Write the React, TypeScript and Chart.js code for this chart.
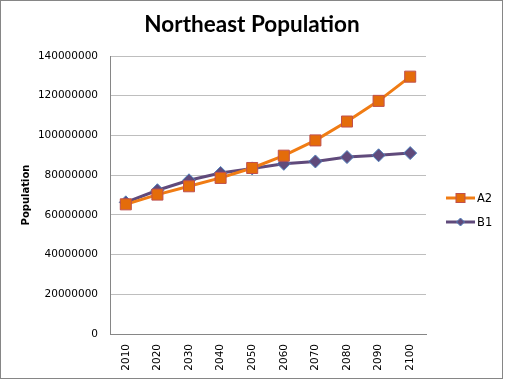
import React, { useEffect, useRef } from "react";
import { Chart, registerables } from "chart.js";

Chart.register(...registerables);

const years = ["2010", "2020", "2030", "2040", "2050", "2060", "2070", "2080", "2090", "2100"];
const a2Values = [65300000, 70200000, 74400000, 78600000, 83600000, 89800000, 97500000, 107000000, 117400000, 129600000];
const b1Values = [66300000, 72400000, 77400000, 81100000, 83400000, 85700000, 86900000, 89100000, 90000000, 91100000];
const seriesNames = ["A2", "B1"];
const titleText = "Northeast Population";
const yTitle = "Population";

const TICK_FONT = "DejaVu Sans";

const borderPlugin = {
  id: "outerBorder",
  beforeDraw(chart: any) {
    const ctx = chart.ctx;
    ctx.save();
    ctx.fillStyle = "#ffffff";
    ctx.fillRect(0, 0, chart.width, chart.height);
    ctx.strokeStyle = "#868686";
    ctx.lineWidth = 1;
    ctx.strokeRect(0.5, 0.5, 502, 378);
    ctx.restore();
  },
};

const titlePlugin = {
  id: "centerTitle",
  afterDraw(chart: any) {
    const ctx = chart.ctx;
    ctx.save();
    ctx.fillStyle = "#000000";
    ctx.font = "bold 22.5px Lato";
    ctx.textAlign = "center";
    ctx.textBaseline = "middle";
    ctx.fillText(titleText, 252, 25);
    ctx.restore();
  },
};

const legendPlugin = {
  id: "lineLegend",
  afterDraw(chart: any) {
    const ctx = chart.ctx;
    const x0 = 446;
    const x1 = 475;
    const ys = [198, 222];
    chart.data.datasets.forEach((ds: any, i: number) => {
      const y = ys[i];
      ctx.save();
      ctx.strokeStyle = ds.borderColor;
      ctx.lineWidth = ds.borderWidth;
      ctx.beginPath();
      ctx.moveTo(x0, y);
      ctx.lineTo(x1, y);
      ctx.stroke();
      ctx.fillStyle = ds.pointBackgroundColor;
      ctx.strokeStyle = ds.pointBorderColor;
      ctx.lineWidth = 1;
      const cx = (x0 + x1) / 2;
      if (ds.pointStyle === "rect") {
        ctx.fillRect(cx - 4.5, y - 4.5, 9, 9);
        ctx.strokeRect(cx - 4.5, y - 4.5, 9, 9);
      } else {
        ctx.beginPath();
        ctx.moveTo(cx, y - 4);
        ctx.lineTo(cx + 4, y);
        ctx.lineTo(cx, y + 4);
        ctx.lineTo(cx - 4, y);
        ctx.closePath();
        ctx.fill();
        ctx.stroke();
      }
      ctx.fillStyle = "#000000";
      ctx.font = `11.5px ${TICK_FONT}`;
      ctx.textBaseline = "middle";
      ctx.textAlign = "left";
      ctx.fillText(ds.label, x1 + 2, y + 1);
      ctx.restore();
    });
  },
};

export default function App() {
  const ref = useRef<HTMLCanvasElement>(null);
  useEffect(() => {
    if (!ref.current) return;
    const chart = new Chart(ref.current, {
      type: "line",
      data: {
        labels: years,
        datasets: [
          {
            label: seriesNames[0],
            data: a2Values,
            borderColor: "#F07C14",
            borderWidth: 3,
            pointStyle: "rect",
            pointRadius: 7.8,
            pointHoverRadius: 7.8,
            pointBackgroundColor: "#E46C0A",
            pointBorderColor: "#C0504D",
            pointBorderWidth: 1,
            tension: 0,
          },
          {
            label: seriesNames[1],
            data: b1Values,
            borderColor: "#604A7B",
            borderWidth: 3,
            pointStyle: "rectRot",
            pointRadius: 6.5,
            pointHoverRadius: 6.5,
            pointBackgroundColor: "#604A7B",
            pointBorderColor: "#4F81BD",
            pointBorderWidth: 1,
            tension: 0,
          },
        ],
      },
      options: {
        animation: false,
        responsive: false,
        events: [],
        layout: { padding: { left: 20, right: 79, top: 56, bottom: 0 } },
        plugins: {
          legend: { display: false },
          tooltip: { enabled: false },
          title: { display: false },
        },
        scales: {
          x: {
            offset: true,
            grid: { display: false, drawTicks: false },
            border: { display: true, color: "#868686", width: 1 },
            ticks: {
              color: "#000000",
              font: { family: TICK_FONT, size: 10.5 },
              minRotation: 90,
              maxRotation: 90,
              autoSkip: false,
              padding: 10,
            },
            afterFit(scale: any) {
              scale.height = 46;
            },
          },
          y: {
            min: 0,
            max: 140000000,
            grid: { color: "#BEBEBE", drawTicks: false, lineWidth: 1 },
            border: { display: true, color: "#868686", width: 1 },
            ticks: {
              stepSize: 20000000,
              color: "#000000",
              font: { family: TICK_FONT, size: 10.5 },
              padding: 12,
              callback: (v: any) => String(v),
            },
            title: {
              display: true,
              text: yTitle,
              color: "#000000",
              font: { family: TICK_FONT, size: 10, weight: "bold" },
              padding: { top: 0, bottom: 0 },
            },
            afterFit(scale: any) {
              scale.width = 90;
            },
          },
        },
      },
      plugins: [borderPlugin, titlePlugin, legendPlugin],
    });
    return () => chart.destroy();
  }, []);
  return (
    <div style={{ position: "fixed", left: 0, top: 0, width: 505, height: 380 }}>
      <canvas ref={ref} width={505} height={380} style={{ width: 505, height: 380 }} />
    </div>
  );
}
